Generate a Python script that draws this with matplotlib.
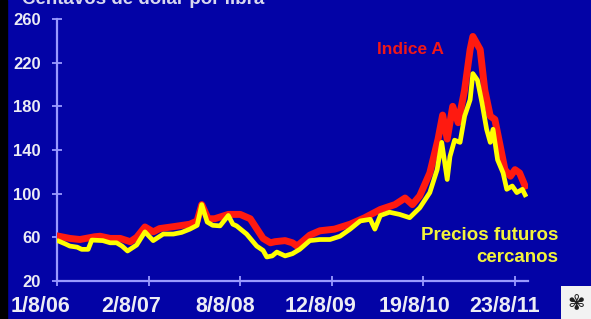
import matplotlib
matplotlib.use("Agg")
import matplotlib.pyplot as plt
import matplotlib.transforms as mtransforms
from matplotlib.patches import Rectangle

# x positions in years since 1/8/06
tick_labels = ["1/8/06", "2/8/07", "8/8/08", "12/8/09", "19/8/10", "23/8/11"]
tick_pos = [0, 1, 2, 3, 4, 5]
y_ticks = [20, 60, 100, 140, 180, 220, 260]

futures_t = [0.02, 0.09, 0.14, 0.22, 0.27, 0.34, 0.38, 0.50, 0.58, 0.65, 0.71, 0.77,
             0.87, 0.96, 1.05, 1.16, 1.27, 1.36, 1.45, 1.53, 1.58, 1.64, 1.70, 1.78,
             1.87, 1.92, 1.96, 2.07, 2.18, 2.25, 2.29, 2.35, 2.40, 2.49, 2.57, 2.65,
             2.76, 2.87, 2.98, 3.09, 3.20, 3.31, 3.42, 3.47, 3.53, 3.63, 3.74, 3.85,
             3.96, 4.07, 4.15, 4.20, 4.26, 4.29, 4.34, 4.40, 4.45, 4.51, 4.54, 4.59,
             4.64, 4.69, 4.73, 4.76, 4.81, 4.87, 4.91, 4.97, 5.02, 5.08, 5.11]
futures_v = [56.5, 54, 52, 51, 49, 49, 57.5, 57, 55, 55, 52, 47.5,
             53, 65, 57, 63, 63, 64.5, 67.5, 71, 90, 74, 71, 70.5,
             80, 72, 70.5, 63, 52, 48, 42, 43, 46.5, 43, 45, 49,
             57, 58, 58, 61, 67.5, 75, 76.5, 67.5, 80, 83, 81, 78,
             87, 101, 122, 147, 113, 134, 149, 147, 171, 186, 210, 204,
             183, 159, 147, 159, 131, 119, 104, 107, 101, 104, 99]

indexA_t = [0.02, 0.14, 0.25, 0.41, 0.47, 0.58, 0.69, 0.80, 0.87, 0.96, 1.05, 1.12,
            1.29, 1.45, 1.53, 1.58, 1.65, 1.72, 1.87, 2.00, 2.11, 2.18, 2.25, 2.33,
            2.38, 2.49, 2.57, 2.62, 2.65, 2.76, 2.87, 3.03, 3.20, 3.36, 3.53, 3.69,
            3.80, 3.88, 3.96, 4.07, 4.16, 4.21, 4.26, 4.32, 4.38, 4.45, 4.51, 4.54,
            4.62, 4.67, 4.73, 4.78, 4.84, 4.89, 4.95, 5.00, 5.05, 5.11]
indexA_v = [61, 59, 58, 60.5, 61, 59, 59, 56, 60, 69.5, 65, 68,
            70, 72, 75, 90, 77, 77, 81, 81, 77, 68, 59, 55,
            56, 57, 55, 52, 54, 62, 66, 67.5, 72, 78, 85.5, 90,
            96, 90, 98, 119, 150, 172, 150, 180, 165, 195, 232, 244,
            232, 195, 171, 168, 143, 122, 116, 122, 119, 107]

BG = "#0303A6"
AX = "#9A9AFF"
TXT = "#ECECF4"
RED = "#FF1A10"
YEL = "#FFFF00"

fig = plt.figure(figsize=(5.91, 3.19), dpi=100, facecolor=BG)
ax = fig.add_axes([57/591, 1 - 281/319, 471/591, 262/319])
ax.set_facecolor(BG)

ax.plot(indexA_t, indexA_v, color=RED, lw=5.0, solid_joinstyle="round", zorder=3)
ax.plot(futures_t, futures_v, color=YEL, lw=3.4, solid_joinstyle="round", zorder=4)

ax.set_xlim(0, 471/91.6)
ax.set_ylim(20, 260)

for s in ["top", "right"]:
    ax.spines[s].set_visible(False)
for s in ["left", "bottom"]:
    ax.spines[s].set_color(AX)
    ax.spines[s].set_linewidth(1.6)
    ax.spines[s].set_zorder(2)

ax.set_xticks(tick_pos)
ax.set_xticklabels(tick_labels)
ax.set_yticks(y_ticks)
ax.tick_params(axis="both", direction="inout", length=7.5, width=1.3, color=AX,
               labelcolor=TXT)
ax.tick_params(axis="x", pad=7, labelsize=15.5)
ax.tick_params(axis="y", pad=8, labelsize=12)
for lab in ax.get_xticklabels() + ax.get_yticklabels():
    lab.set_fontfamily("Liberation Sans")
    lab.set_fontweight("bold")
shifts_px = [-17, -17, -15, -11, -9, -10]
for lab, sh in zip(ax.get_xticklabels(), shifts_px):
    off = mtransforms.ScaledTranslation(sh/100, 0, fig.dpi_scale_trans)
    lab.set_transform(lab.get_transform() + off)

# annotations
fig.text(410/591, 1 - 50/319, "Indice A", color="#F01818", fontsize=12.5,
         fontweight="bold", family="Liberation Sans", ha="center", va="center")
fig.text(558/591, 1 - 236/319, "Precios futuros", color="#F4F43A", fontsize=13.5,
         fontweight="bold", family="Liberation Sans", ha="right", va="center")
fig.text(558/591, 1 - 258/319, "cercanos", color="#F4F43A", fontsize=13.5,
         fontweight="bold", family="Liberation Sans", ha="right", va="center")
# title, mostly cut off at the top as in the reference
fig.text(22/591, 1 - 4/319, "Centavos de dólar por libra", color="#D8D8EE",
         fontsize=13.5, fontweight="bold", family="Liberation Sans",
         ha="left", va="baseline")

# left black strip
fig.patches.append(Rectangle((0, 0), 7/591, 1, transform=fig.transFigure,
                             color="black", zorder=5))
# logo box bottom right
fig.patches.append(Rectangle((561/591, 0), 30/591, 33/319, transform=fig.transFigure,
                             facecolor="#F2F2F2", edgecolor="none", zorder=5))
fig.text(576/591, 16/319, "✾", color="#202020", fontsize=15, family="DejaVu Sans",
         ha="center", va="center", zorder=6)

fig.savefig("out.png", dpi=100, facecolor=BG)
